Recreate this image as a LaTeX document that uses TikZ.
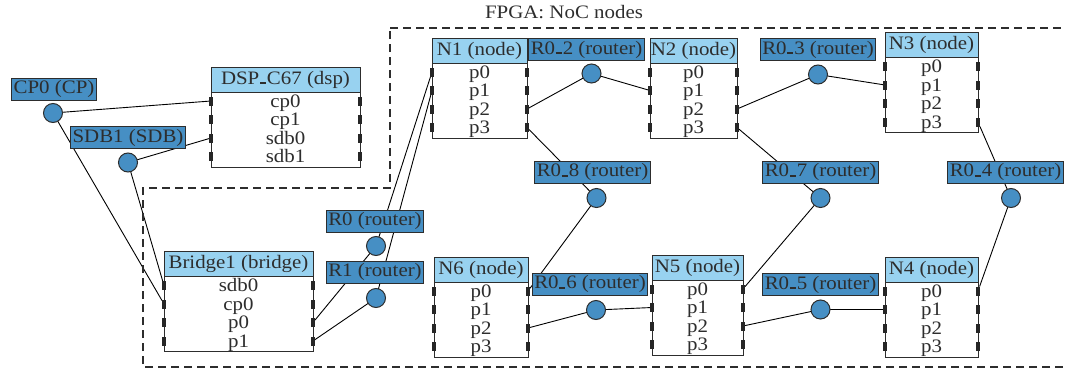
\documentclass[tikz,border=0pt]{standalone}
\usepackage{fontspec}
\setmainfont{Liberation Serif}[FakeStretch=1.1]
\usepackage{tikz}
\usetikzlibrary{positioning}
\usetikzlibrary{calc}
\definecolor{headblue}{RGB}{152,210,240}
\definecolor{routblue}{RGB}{70,143,196}
\definecolor{inkgray}{RGB}{45,45,45}
\pgfdeclarelayer{back}
\pgfsetlayers{back,main}
\newcommand{\dfont}{\fontsize{19}{19}\selectfont}
\newcommand{\us}{\leavevmode\kern.04em\vbox{\hrule width.32em height.09em}\kern.04em}
\tikzstyle{every node}+=[inner sep=0pt, outer sep=0pt, text=inkgray]
\tikzstyle{head} = [rectangle, draw=inkgray, fill=headblue, line width=1pt, minimum height=25pt, font=\dfont]
\tikzstyle{body} = [rectangle, draw=inkgray, fill=white, line width=1pt, minimum height=75pt]
\tikzstyle{port} = [rectangle, fill=black!85, minimum width=4pt, minimum height=9pt]
\tikzstyle{plabel} = [anchor=base, font=\dfont]
\tikzstyle{rlabel} = [rectangle, draw=inkgray, fill=routblue, line width=1pt, minimum height=22pt, inner xsep=2pt, font=\dfont]
\tikzstyle{rnode} = [circle, draw=inkgray, fill=routblue, line width=1pt, minimum size=19pt]
\tikzstyle{line} = [draw, black, line width=0.9pt]
\tikzstyle{frame} = [draw=inkgray, line width=1.1pt, dash pattern=on 8pt off 5pt]
% block: name, header centre, width, title, port names
\newcommand{\ipblock}[5]{%
  \node[head, minimum width=#3pt] (#1) at (#2) {#4};
  \node[body, minimum width=#3pt, below=0pt of #1] (#1b) {};
  \foreach \pname [count=\i from 0] in {#5} {
    \node[port] (#1l\i) at ($(#1b.north west)+(0,9+18.5*\i)$) {};
    \node[port] (#1r\i) at ($(#1b.north east)+(0,9+18.5*\i)$) {};
    \node[plabel] at ($(#1b.north)+(0,15+18.5*\i)$) {\pname};
  }
}
% router: name, label centre, text, xshift, gap
\newcommand{\router}[5]{%
  \node[rlabel] (#1) at (#2) {#3};
  \node[rnode, below=#5pt of #1, xshift=#4pt] (#1c) {};
}

\begin{document}
\begin{tikzpicture}[x=1pt, y=-1pt]
  \useasboundingbox (0,0) rectangle (1066,372);
  \clip (0,0) rectangle (1066,372);
  % FPGA region
  \node[font=\dfont] (fpga) at (564,12) {FPGA: NoC nodes};
  \path[frame] (390,28) -- (1090,28) -- (1090,367) -- (143,367) -- (143,188) -- (390,188) -- cycle;
  % Place nodes
  \ipblock{dsp}{285.5,79.5}{149}{DSP\us C67 (dsp)}{cp0,cp1,sdb0,sdb1}
  \ipblock{brg}{238.5,264}{149}{Bridge1 (bridge)}{sdb0,cp0,p0,p1}
  \ipblock{n1}{479.5,50.5}{95}{N1 (node)}{p0,p1,p2,p3}
  \ipblock{n2}{693.5,50.5}{87}{N2 (node)}{p0,p1,p2,p3}
  \ipblock{n3}{931.5,45}{93}{N3 (node)}{p0,p1,p2,p3}
  \ipblock{n6}{481,269.5}{94}{N6 (node)}{p0,p1,p2,p3}
  \ipblock{n5}{697.5,267.5}{91}{N5 (node)}{p0,p1,p2,p3}
  \ipblock{n4}{931.5,269.5}{93}{N4 (node)}{p0,p1,p2,p3}
  \router{cp0}{54,89}{CP0 (CP)}{-1}{3.5}
  \router{sdb1}{128,137.5}{SDB1 (SDB)}{0}{4.5}
  \router{r0}{375,221}{R0 (router)}{1}{4.5}
  \router{r1}{375,272}{R1 (router)}{1}{5.5}
  \router{r02}{586.5,49.5}{R0\us 2 (router)}{5}{3.5}
  \router{r03}{818,49.5}{R0\us 3 (router)}{0}{4.5}
  \router{r08}{592.5,172}{R0\us 8 (router)}{4}{5.5}
  \router{r07}{820.5,172}{R0\us 7 (router)}{0}{5.5}
  \router{r04}{1005.5,172}{R0\us 4 (router)}{5.5}{5.5}
  \router{r06}{590,284}{R0\us 6 (router)}{6}{5.5}
  \router{r05}{820.5,284.5}{R0\us 5 (router)}{0}{4.5}
  % Draw edges
  \begin{pgfonlayer}{back}
    \path [line] (dspl0) -- (cp0c) -- (brgl1);
    \path [line] (dspl2) -- (sdb1c) -- (brgl0);
    \path [line] (brgr2) -- (r0c) -- (n1l0);
    \path [line] (brgr3) -- (r1c) -- (n1l1);
    \path [line] (n1r2) -- (r02c) -- (n2l1);
    \path [line] (n1r3) -- (r08c) -- (n6r0);
    \path [line] (n6r2) -- (r06c) -- (n5l1);
    \path [line] (n2r2) -- (r03c) -- (n3l1);
    \path [line] (n2r3) -- (r07c) -- (n5r0);
    \path [line] (n5r2) -- (r05c) -- (n4l1);
    \path [line] (n3r3) -- (r04c) -- (n4r0);
  \end{pgfonlayer}
\end{tikzpicture}
\end{document}
